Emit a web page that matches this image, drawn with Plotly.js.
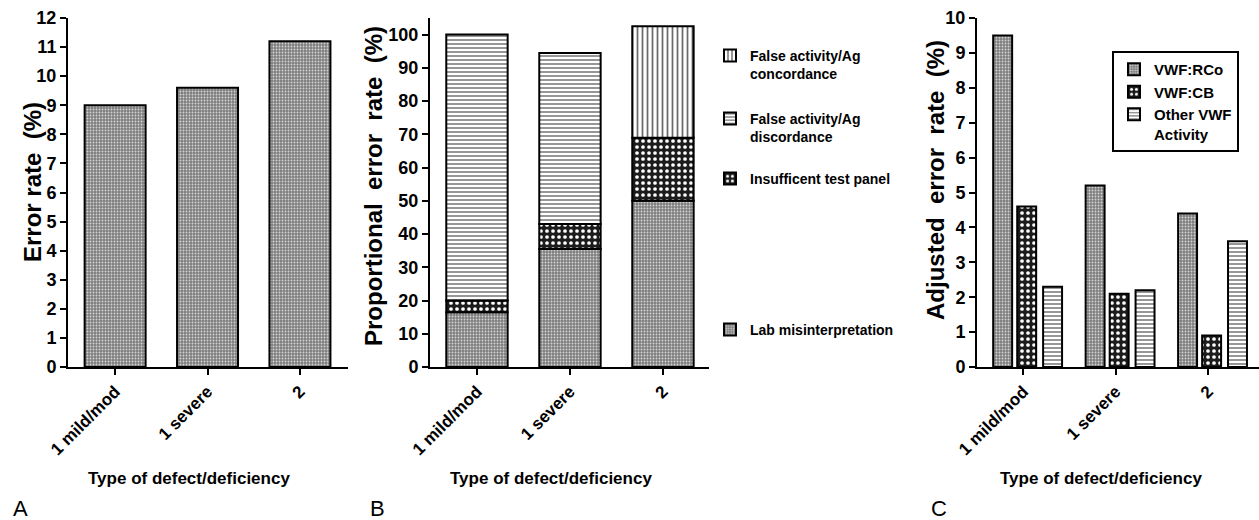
<!DOCTYPE html>
<html>
<head>
<meta charset="utf-8">
<script src="https://cdn.plot.ly/plotly-3.0.1.min.js"></script>
<style>html,body{margin:0;padding:0;background:#fff;}#chart{width:1259px;height:520px;}</style>
</head>
<body>
<div id="chart"></div>
<script>
// ---- data ----
const categories = ["1 mild/mod", "1 severe", "2"];

// Panel A: error rate (%)
const errorRate = [9.0, 9.6, 11.2];

// Panel B: proportional error rate (%) – stacked components
const labMisinterpretation = [16.5, 35.5, 50.0];
const insufficientPanel = [3.5, 7.5, 19.0];
const falseDiscordance = [80.0, 51.5, 0];
const falseConcordance = [0, 0, 33.5];

// Panel C: adjusted error rate (%)
const vwfRCo = [9.5, 5.2, 4.4];
const vwfCB = [4.6, 2.1, 0.9];
const otherVWF = [2.3, 2.2, 3.6];

// ---- styles ----
const FONT = "Liberation Sans, Arial, sans-serif";
const dotted = {shape: ".", bgcolor: "#7e7e7e", fgcolor: "#d4d4d4", size: 3, solidity: 0.3};
const checker = {shape: ".", bgcolor: "#1c1c1c", fgcolor: "#ffffff", size: 6, solidity: 0.3};
const hlines = {shape: "-", bgcolor: "#ffffff", fgcolor: "#6a6a6a", size: 4, solidity: 0.35};
const vlines = {shape: "|", bgcolor: "#ffffff", fgcolor: "#6a6a6a", size: 5, solidity: 0.35};
const outline = {color: "#000", width: 2};

function cum(...arrs) {
  return arrs[0].map((_, i) => arrs.reduce((s, a) => s + a[i], 0));
}

const traces = [];

// Panel A
traces.push({type: "bar", x: categories, y: errorRate, xaxis: "x", yaxis: "y",
  width: 0.66, offset: -0.33,
  marker: {color: "#858585", pattern: dotted, line: outline}, showlegend: false, hoverinfo: "y"});

// Panel B (stacked via base)
const zeros = categories.map(() => 0);
const bW = 0.66, bOff = -0.33;
traces.push({type: "bar", name: "Lab misinterpretation", x: categories, y: labMisinterpretation,
  base: zeros, xaxis: "x2", yaxis: "y2", width: bW, offset: bOff, legend: "legend5",
  marker: {color: "#858585", pattern: dotted, line: outline}});
traces.push({type: "bar", name: "Insufficent test panel", x: categories, y: insufficientPanel,
  base: cum(labMisinterpretation), xaxis: "x2", yaxis: "y2", width: bW, offset: bOff, legend: "legend4",
  marker: {color: "#1c1c1c", pattern: checker, line: outline}});
traces.push({type: "bar", name: "False activity/Ag<br>discordance", x: categories.slice(0, 2), y: falseDiscordance.slice(0, 2),
  base: cum(labMisinterpretation, insufficientPanel).slice(0, 2), xaxis: "x2", yaxis: "y2", width: bW, offset: bOff, legend: "legend3",
  marker: {color: "#ffffff", pattern: hlines, line: outline}});
traces.push({type: "bar", name: "False activity/Ag<br>concordance", x: categories.slice(2), y: falseConcordance.slice(2),
  base: cum(labMisinterpretation, insufficientPanel).slice(2), xaxis: "x2", yaxis: "y2", width: bW, offset: bOff, legend: "legend2",
  marker: {color: "#ffffff", pattern: vlines, line: outline}});

// Panel C (grouped)
const cW = 0.205;
traces.push({type: "bar", name: "VWF:RCo", x: categories, y: vwfRCo, xaxis: "x3", yaxis: "y3",
  width: cW, offset: -0.325, legend: "legend",
  marker: {color: "#858585", pattern: dotted, line: outline}});
traces.push({type: "bar", name: "VWF:CB", x: categories, y: vwfCB, xaxis: "x3", yaxis: "y3",
  width: cW, offset: -0.065, legend: "legend",
  marker: {color: "#1c1c1c", pattern: checker, line: outline}});
traces.push({type: "bar", name: "Other VWF<br>Activity", x: categories, y: otherVWF, xaxis: "x3", yaxis: "y3",
  width: cW, offset: 0.215, legend: "legend",
  marker: {color: "#ffffff", pattern: hlines, line: outline}});

const W = 1259, H = 520;
const px = v => v / W, py = v => 1 - v / H;
const yDom = [py(367), py(18)];

const xBase = {type: "category", showline: true, linecolor: "#000", linewidth: 2,
  ticks: "outside", ticklen: 6, tickwidth: 2, tickcolor: "#000", tickangle: -45,
  showgrid: false, zeroline: false, fixedrange: true,
  tickfont: {family: FONT, size: 17, color: "#000", weight: "bold"}};
const yBase = {showline: true, linecolor: "#000", linewidth: 2,
  ticks: "outside", ticklen: 6, tickwidth: 2, tickcolor: "#000",
  showgrid: false, zeroline: false, fixedrange: true,
  tickfont: {family: FONT, size: 18, color: "#000", weight: "bold"}};

const legendBase = {bgcolor: "rgba(0,0,0,0)", borderwidth: 0, xanchor: "left", yanchor: "top",
  font: {family: FONT, size: 14, color: "#000", weight: "bold"}, valign: "top", itemwidth: 30};

const ann = (text, x, y, opts) => Object.assign({text, x: px(x), y: py(y), xref: "paper", yref: "paper",
  showarrow: false, xanchor: "center", yanchor: "middle",
  font: {family: FONT, size: 17, color: "#000", weight: "bold"}}, opts || {});

const bigTitle = {family: FONT, size: 24, color: "#000", weight: "bold"};

const layout = {
  width: W, height: H,
  margin: {l: 0, r: 0, t: 0, b: 0},
  paper_bgcolor: "#fff", plot_bgcolor: "rgba(0,0,0,0)",
  barmode: "group",
  xaxis: Object.assign({}, xBase, {domain: [px(68), px(348)], range: [-0.51, 2.52], anchor: "y"}),
  yaxis: Object.assign({}, yBase, {domain: yDom, range: [0, 12], dtick: 1, anchor: "x"}),
  xaxis2: Object.assign({}, xBase, {domain: [px(430), px(709)], range: [-0.505, 2.495], anchor: "y2"}),
  yaxis2: Object.assign({}, yBase, {domain: yDom, range: [0, 105], tickvals: [0,10,20,30,40,50,60,70,80,90,100], anchor: "x2"}),
  xaxis3: Object.assign({}, xBase, {domain: [px(977), 1], range: [-0.5, 2.55], anchor: "y3"}),
  yaxis3: Object.assign({}, yBase, {domain: yDom, range: [0, 10], dtick: 1, anchor: "x3"}),
  legend: Object.assign({}, legendBase, {x: px(1112), y: py(51), bgcolor: "#fff", bordercolor: "#000", borderwidth: 2,
    font: {family: FONT, size: 15, color: "#000", weight: "bold"}, tracegroupgap: 0}),
  legend2: Object.assign({}, legendBase, {x: px(710), y: py(40)}),
  legend3: Object.assign({}, legendBase, {x: px(710), y: py(103)}),
  legend4: Object.assign({}, legendBase, {x: px(710), y: py(163)}),
  legend5: Object.assign({}, legendBase, {x: px(710), y: py(314)}),
  annotations: [
    ann("Error rate  (%)", 32, 182, {textangle: -90, font: bigTitle}),
    ann("Proportional  error  rate  (%)", 373, 186, {textangle: -90, font: bigTitle}),
    ann("Adjusted  error  rate  (%)", 935, 180, {textangle: -90, font: bigTitle}),
    ann("Type of defect/deficiency", 189, 478),
    ann("Type of defect/deficiency", 551, 478),
    ann("Type of defect/deficiency", 1101, 478),
    ann("A", 20, 508, {font: {family: FONT, size: 22, color: "#000"}}),
    ann("B", 377, 508, {font: {family: FONT, size: 22, color: "#000"}}),
    ann("C", 939, 508, {font: {family: FONT, size: 22, color: "#000"}})
  ]
};

Plotly.newPlot("chart", traces, layout, {staticPlot: true, displayModeBar: false});
</script>
</body>
</html>
